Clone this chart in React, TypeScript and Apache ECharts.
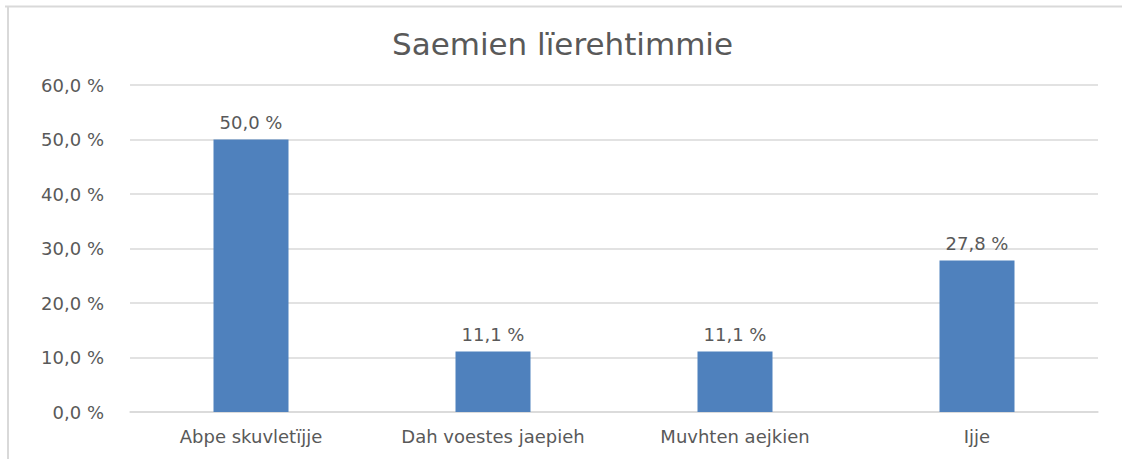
import React, { useEffect, useRef } from "react";
import * as echarts from "echarts";

const chartTitle = "Saemien lïerehtimmie";
const categories = ["Abpe skuvletïjje", "Dah voestes jaepieh", "Muvhten aejkien", "Ijje"];
const values = [50.0, 11.1, 11.1, 27.8];
const yMin = 0;
const yMax = 60;
const yInterval = 10;

const fmt = (v: number) => v.toFixed(1).replace(".", ",") + " %";

export default function App() {
  const ref = useRef<HTMLDivElement>(null);
  useEffect(() => {
    if (!ref.current) return;
    const chart = echarts.init(ref.current, null, { renderer: "svg" });
    const textColor = "#595959";
    const font = "'DejaVu Sans', sans-serif";
    chart.setOption({
      animation: false,
      backgroundColor: "#ffffff",
      title: {
        text: chartTitle,
        left: "center",
        top: 23,
        textStyle: { color: textColor, fontSize: 31, fontWeight: "normal", fontFamily: font },
      },
      grid: { left: 130, right: 27, top: 85, bottom: 47, containLabel: false },
      xAxis: {
        type: "category",
        data: categories,
        axisLine: { show: true, lineStyle: { color: "#d9d9d9", width: 1.5 } },
        axisTick: { show: false },
        axisLabel: { color: textColor, fontSize: 18, fontFamily: font, margin: 15 },
      },
      yAxis: {
        type: "value",
        min: yMin,
        max: yMax,
        interval: yInterval,
        axisLine: { show: false },
        axisTick: { show: false },
        splitLine: { lineStyle: { color: "#d9d9d9", width: 1.5 } },
        axisLabel: { color: textColor, fontSize: 18, fontFamily: font, margin: 26, formatter: (v: number) => fmt(v) },
      },
      series: [
        {
          type: "bar",
          data: values,
          barWidth: 75,
          itemStyle: { color: "#4F81BD" },
          label: {
            show: true,
            position: "top",
            distance: 8,
            color: textColor,
            fontSize: 18,
            fontFamily: font,
            formatter: (p: any) => fmt(p.value),
          },
        },
      ],
      graphic: [
        { type: "line", shape: { x1: 5, y1: 6.5, x2: 1122, y2: 6.5 }, style: { stroke: "#d9d9d9", lineWidth: 2 } },
        { type: "line", shape: { x1: 8, y1: 6, x2: 8, y2: 459 }, style: { stroke: "#d9d9d9", lineWidth: 2 } },
      ],
    });
    return () => chart.dispose();
  }, []);
  return <div ref={ref} style={{ position: "fixed", left: 0, top: 0, width: 1125, height: 459 }} />;
}
